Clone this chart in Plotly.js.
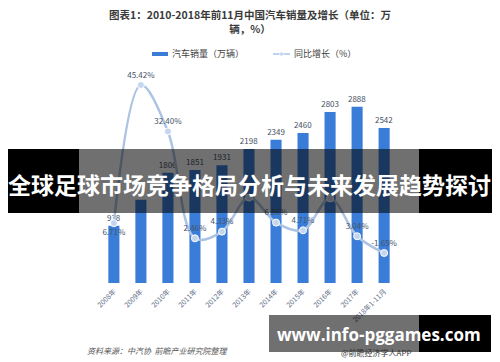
<!DOCTYPE html>
<html>
<head>
<meta charset="utf-8">
<script src="https://cdn.plot.ly/plotly-3.0.1.min.js"></script>
<style>
html,body{margin:0;padding:0;background:#fff;}
#chart{width:500px;height:362px;}
</style>
</head>
<body>
<div id="chart"></div>
<script>
// ---- data ----
const categories = ['2008年','2009年','2010年','2011年','2012年','2013年','2014年','2015年','2016年','2017年','2018年1-11月'];
const sales = [938, 1364, 1806, 1851, 1931, 2198, 2349, 2460, 2803, 2888, 2542];
const growth = [6.71, 45.42, 32.40, 2.46, 4.33, 13.87, 6.86, 4.71, 13.65, 3.04, -1.65];
// labels hidden under the banner in the reference are left blank
const salesShown = [true, false, true, true, true, true, true, true, true, true, true];
const growthShown = [true, true, true, true, true, false, true, true, false, true, true];
const growthPos = ['bottom center','top center','top center','top center','top center','top center','top center','top center','top center','top center','top center'];
const titleText = '图表1：2010-2018年前11月中国汽车销量及增长（单位：万<br>辆，%）';
const legendNames = ['汽车销量（万辆）','同比增长（%）'];
const sourceText = '资料来源：中汽协  前瞻产业研究院整理';
const bannerText = '全球足球市场竞争格局分析与未来发展趋势探讨';
const siteText = 'www.info-pggames.com';
const appText = '@前瞻经济学人APP';

// ---- layout geometry (pixels) ----
const W = 500, H = 362;
const M = {l: 94, r: 96, t: 80, b: 79};
const PW = W - M.l - M.r, PH = H - M.t - M.b;
const px = x => (x - M.l) / PW;
const py = y => (H - M.b - y) / PH;

const CJK = '"Noto Sans CJK SC", "Noto Sans", sans-serif';
const barColor = '#3a7dd8';
const lineColor = '#adc3e4';

const traces = [
  {
    type: 'bar', x: categories, y: sales, name: legendNames[0],
    marker: {color: barColor},
    text: sales.map((v, i) => salesShown[i] ? String(v) : ''), textposition: 'outside', cliponaxis: false,
    constraintext: 'none',
    textfont: {size: 8, color: '#44505f', family: CJK},
    hoverinfo: 'skip'
  },
  {
    type: 'scatter', mode: 'lines+markers+text', x: categories, y: growth, yaxis: 'y2',
    name: legendNames[1],
    line: {color: lineColor, width: 2.5, shape: 'spline', smoothing: 1.0},
    marker: {size: 7, color: '#c4d6ef', line: {color: '#ffffff', width: 1}},
    text: growth.map((v, i) => growthShown[i] ? v.toFixed(2) + '%' : ''), textposition: growthPos, cliponaxis: false,
    textfont: {size: 8, color: '#44546a', family: CJK},
    hoverinfo: 'skip'
  }
];

const shapes = [
  // legend markers
  {type:'line', xref:'paper', yref:'paper', x0:px(152), x1:px(168), y0:py(54), y1:py(54), line:{color:barColor, width:4}},
  {type:'line', xref:'paper', yref:'paper', x0:px(273), x1:px(290), y0:py(54), y1:py(54), line:{color:lineColor, width:1.5}},
  {type:'circle', xref:'paper', yref:'paper', x0:px(279.5), x1:px(283.5), y0:py(52), y1:py(56), fillcolor:'#c4d6ef', line:{color:'#ffffff', width:0.5}},
  // banner overlay
  {type:'rect', xref:'paper', yref:'paper', layer:'above', x0:px(8), x1:px(79), y0:py(149), y1:py(213), fillcolor:'#000', line:{width:0}},
  {type:'rect', xref:'paper', yref:'paper', layer:'above', x0:px(79), x1:px(419), y0:py(149), y1:py(213), fillcolor:'rgba(0,0,0,0.56)', line:{width:0}},
  {type:'rect', xref:'paper', yref:'paper', layer:'above', x0:px(419), x1:px(492), y0:py(149), y1:py(213), fillcolor:'#000', line:{width:0}},
  // bottom-right box
  {type:'rect', xref:'paper', yref:'paper', layer:'above', x0:px(269), x1:px(419), y0:py(315), y1:py(352), fillcolor:'rgba(0,0,0,0.56)', line:{width:0}},
  {type:'rect', xref:'paper', yref:'paper', layer:'above', x0:px(419), x1:px(491), y0:py(315), y1:py(352), fillcolor:'#000', line:{width:0}}
];

const annotations = [
  {xref:'paper', yref:'paper', x:px(250), y:py(22), text:'<b>'+titleText+'</b>', showarrow:false,
   font:{family:CJK, size:10.5, color:'#3a3a3a'}, align:'center', xanchor:'center', yanchor:'middle'},
  {xref:'paper', yref:'paper', x:px(170), y:py(54), text:legendNames[0], showarrow:false,
   font:{family:CJK, size:9, color:'#404040'}, xanchor:'left', yanchor:'middle'},
  {xref:'paper', yref:'paper', x:px(292), y:py(54), text:legendNames[1], showarrow:false,
   font:{family:CJK, size:9, color:'#404040'}, xanchor:'left', yanchor:'middle'},
  {xref:'paper', yref:'paper', x:px(85), y:py(350), text:'<i>'+sourceText+'</i>', showarrow:false,
   font:{family:CJK, size:8, color:'#555'}, xanchor:'left', yanchor:'middle'},
  {xref:'paper', yref:'paper', x:px(376), y:py(352), text:appText, showarrow:false, borderpad:0,
   font:{family:CJK, size:8, color:'#333'}, xanchor:'center', yanchor:'middle'},
  {xref:'paper', yref:'paper', x:px(250), y:py(184), text:'<b>'+bannerText+'</b>', showarrow:false, borderpad:0,
   font:{family:CJK, size:23, color:'#ffffff'}, xanchor:'center', yanchor:'middle'},
  {xref:'paper', yref:'paper', x:px(379), y:py(334), text:'<b>'+siteText+'</b>', showarrow:false, borderpad:0,
   font:{family:'"Open Sans", "Noto Sans", sans-serif', size:17, color:'#ffffff'}, xanchor:'center', yanchor:'middle'}
];

const layout = {
  width: W, height: H,
  margin: M,
  paper_bgcolor: '#ffffff', plot_bgcolor: '#ffffff',
  showlegend: false,
  bargap: 0.59,
  font: {family: CJK},
  xaxis: {
    type: 'category', tickangle: -45, showline: false, showgrid: false, zeroline: false, ticks: '',
    tickfont: {size: 7, color: '#5b6b85', family: CJK}, ticklabelstandoff: 2
  },
  yaxis: {range: [0, 3328], visible: false, showgrid: false, zeroline: false},
  yaxis2: {range: [-10.06, 46.82], overlaying: 'y', side: 'right', visible: false, showgrid: false, zeroline: false},
  shapes: shapes,
  annotations: annotations
};

Plotly.newPlot('chart', traces, layout, {staticPlot: true, displayModeBar: false});
</script>
</body>
</html>
